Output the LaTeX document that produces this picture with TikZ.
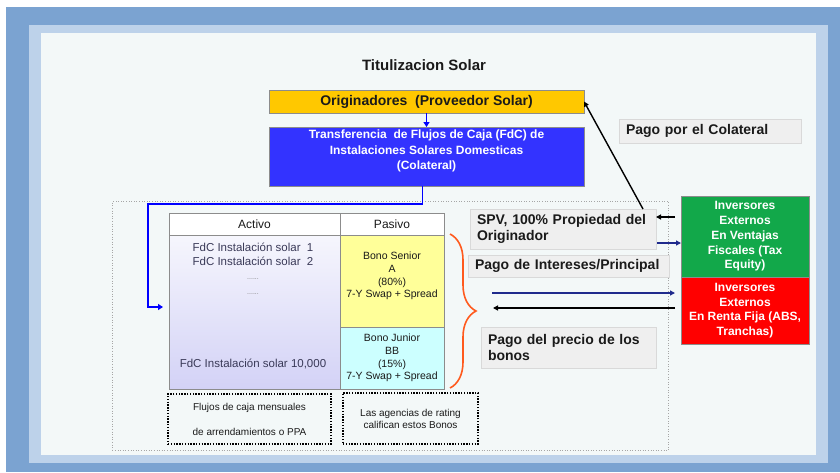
\documentclass[tikz,border=0pt]{standalone}
\usepackage{fontspec}
\setmainfont{Liberation Sans}
\usetikzlibrary{arrows.meta,calc,decorations.pathreplacing}
\definecolor{frameblue}{HTML}{7BA3D1}
\definecolor{lightborder}{HTML}{BDD2EA}
\definecolor{panel}{HTML}{F3F8F8}
\definecolor{gold}{HTML}{FFC800}
\definecolor{transblue}{HTML}{3333FF}
\definecolor{boxgray}{HTML}{8C8C8C}
\definecolor{labelfill}{HTML}{EFEFEF}
\definecolor{labeldraw}{HTML}{D9D9D9}
\definecolor{senior}{HTML}{FFFF99}
\definecolor{junior}{HTML}{CCFFFF}
\definecolor{actop}{HTML}{F6F6FD}
\definecolor{acbot}{HTML}{D3D2F6}
\definecolor{bracecol}{HTML}{FF5A1E}
\definecolor{greenbox}{HTML}{12A84A}
\definecolor{redbox}{HTML}{FF0000}
\definecolor{navyarr}{HTML}{1F2A8C}
\definecolor{tabtext}{HTML}{3A3A58}
\definecolor{ink}{HTML}{1A1A1A}
\newcommand\fsz[2]{\fontsize{#1}{#2}\selectfont}
\begin{document}
\begin{tikzpicture}[x=1pt,y=-1pt,
 cell/.style={draw=boxgray, line width=0.8pt, anchor=north west, inner sep=0pt, outer sep=0pt, text=ink},
 labelbox/.style={draw=labeldraw, fill=labelfill, line width=0.8pt, anchor=north west, inner xsep=7pt, inner ysep=0pt, outer sep=0pt, align=left, font=\bfseries\fsz{14}{16}, text=ink},
 invbox/.style={draw=boxgray, line width=0.8pt, anchor=north west, text=white, font=\bfseries\fsz{12}{14.75}, align=center, inner sep=0pt, outer sep=0pt, minimum width=128pt},
 dotbox/.style={draw=black, line width=2.2pt, dash pattern=on 1.4pt off 1.4pt, anchor=north west, inner sep=0pt, outer sep=0pt, align=center, font=\fsz{10}{12}, text=ink},
 bluearr/.style={draw=blue, line width=1.8pt, -{Triangle[length=5pt,width=6pt]}},
 blkarr/.style={draw=black, line width=1.4pt, -{Triangle[length=5pt,width=5pt]}},
 navarr/.style={draw=navyarr, line width=1.4pt, -{Triangle[length=5pt,width=5pt]}},
 txt/.style={inner sep=0pt, align=center, text=ink},
]
\useasboundingbox (0,0) rectangle (840,472);
\fill[white] (0,0) rectangle (840,472);
\fill[frameblue] (6,7) rectangle (840,472);
\fill[lightborder] (29,25) rectangle (828,463);
\fill[panel] (41,33) rectangle (816,455);

\node[font=\bfseries\fsz{15}{18}, text=ink] (title) at (424,65) {Titulizacion Solar};

\node[cell, fill=gold, minimum width=315pt, minimum height=23pt, font=\bfseries\fsz{14}{16}] (orig) at (269,90) {Originadores\ \ (Proveedor Solar)};
\node[cell, fill=transblue, minimum width=315pt, minimum height=59pt] (trans) at (269,127) {};
\node[txt, text=white, font=\bfseries\fsz{12}{15.5}] (transtxt) at (426.5,151) {Transferencia\ \ de Flujos de Caja (FdC) de\\Instalaciones Solares Domesticas\\(Colateral)};
\draw[bluearr, line width=1.4pt] (orig.south) -- (trans.north);

\node[draw=gray!70, dotted, line width=0.6pt, anchor=north west, minimum width=556pt, minimum height=249pt, inner sep=0pt] (region) at (112,201) {};

% table
\node[cell, fill=white, minimum width=171pt, minimum height=22pt, font=\fsz{12}{14}] (hact) at (169,213) {Activo};
\node[cell, fill=white, minimum width=104pt, minimum height=22pt, font=\fsz{12}{14}] (hpas) at (340,213) {Pasivo};
\node[cell, top color=actop, bottom color=acbot, minimum width=171pt, minimum height=154pt] (act) at (169,235) {};
\node[cell, fill=senior, minimum width=104pt, minimum height=92pt] (sen) at (340,235) {};
\node[cell, fill=junior, minimum width=104pt, minimum height=62pt] (jun) at (340,327) {};

\node[txt, text=tabtext, font=\fsz{11.5}{14}] (fdc1) at (253,254) {FdC Instalación solar\ \ 1\\FdC Instalación solar\ \ 2};
\node[txt, text=gray, font=\fsz{7}{15}] (dots) at (253,286.5) {......\\......};
\node[txt, text=tabtext, font=\fsz{11.5}{14}] (fdcn) at (253,364) {FdC Instalación solar 10,000};

\node[txt, font=\fsz{10.5}{12.7}] (sentxt) at (392,276) {Bono Senior\\A\\(80\%)\\7-Y Swap + Spread};
\node[txt, font=\fsz{10.5}{12.7}] (juntxt) at (392,358) {Bono Junior\\BB\\(15\%)\\7-Y Swap + Spread};

\draw[bracecol, line width=1.6pt, decorate, decoration={brace, amplitude=26pt, aspect=0.5}] (450,234) -- (450,388);

\node[dotbox, minimum width=163pt, minimum height=50pt, font=\fsz{10}{25}] (note1) at (168,394) {Flujos de caja mensuales\\de arrendamientos o PPA};
\node[dotbox, minimum width=135pt, minimum height=51pt] (note2) at (343,393) {Las agencias de rating\\califican estos Bonos};

\coordinate (bend) at (148,204);
\draw[bluearr, shorten >=6pt] ($(trans.south)+(-4,0)$) |- (bend) |- ($(act.west)+(0,-5)$);

% labels
\node[labelbox, text width=172pt, minimum height=40pt] (spv) at (470,209) {SPV, 100\% Propiedad del\\Originador};
\node[labelbox, text width=187pt, minimum height=22pt] (pint) at (468,255) {Pago de Intereses/Principal};
\node[labelbox, text width=161pt, minimum height=41pt] (pprec) at (481,327) {Pago del precio de los\\bonos};
\node[labelbox, text width=168pt, minimum height=24pt] (pcol) at (619,119) {Pago por el Colateral};

\node[invbox, fill=greenbox, minimum height=81pt] (green) at (681,196) {Inversores\\Externos\\En Ventajas\\Fiscales (Tax\\Equity)};
\node[invbox, fill=redbox, minimum height=67pt] (red) at (681,277) {Inversores\\Externos\\En Renta Fija (ABS,\\Tranchas)};

\draw[blkarr] ($(spv.north east)+(-13,0)$) -- (orig.east);
\coordinate (g1) at (675,217);
\draw[blkarr] (g1) -- (g1 -| spv.east);
\coordinate (g2) at (657,243);
\draw[navarr] (g2) -- (g2 -| green.west);
\coordinate (r1) at (492,293);
\draw[navarr] (r1) -- ($(r1 -| red.west)+(-6,0)$);
\coordinate (r2) at (675,308);
\coordinate (r2e) at (493,308);
\draw[blkarr] (r2) -- (r2e);
\end{tikzpicture}
\end{document}
